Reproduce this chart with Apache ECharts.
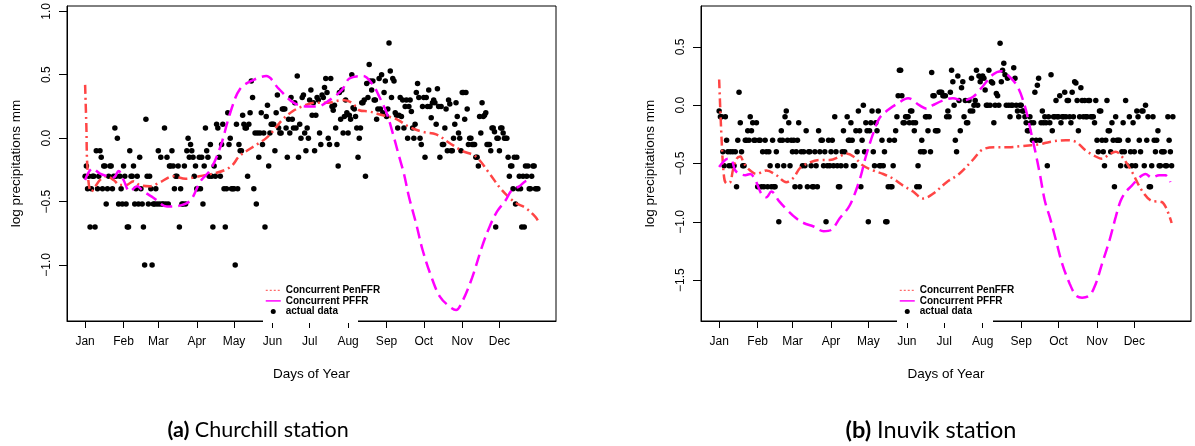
<!DOCTYPE html>
<html>
<head>
<meta charset="utf-8">
<script src="https://cdn.jsdelivr.net/npm/echarts@6/dist/echarts.min.js"></script>
<style>
  html, body { margin: 0; padding: 0; background: #fff; }
  #chart { width: 1195px; height: 446px; }
</style>
</head>
<body>
<div id="chart"></div>
<script>
// first day of each month (day of year) and tick labels
var monthStarts = [1, 32, 60, 91, 121, 152, 182, 213, 244, 274, 305, 335];
var monthNames = ['Jan', 'Feb', 'Mar', 'Apr', 'May', 'Jun', 'Jul', 'Aug', 'Sep', 'Oct', 'Nov', 'Dec'];
var yTicksA = [-1, -0.5, 0, 0.5, 1];
var yTicksB = [-1.5, -1, -0.5, 0, 0.5];

// Churchill: actual data, one value per day
var chuJan = [-0.3, -0.22, -0.4, -0.3, -0.7, -0.4, -0.3, -0.3, -0.7, -0.1, -0.4, -0.3, -0.1, -0.15, -0.4, -0.22, -0.22, -0.52, -0.4, -0.3, -0.22, -0.22, -0.4, -0.3, 0.08, -0.3, 0, -0.52, -0.3, -0.4, -0.52];
var chuFeb = [-0.22, -0.3, -0.52, -0.7, -0.7, -0.1, -0.3, -0.3, -0.22, -0.52, -0.4, -0.3, -0.52, -0.15, -0.4, -0.52, -0.7, -1, 0.15, -0.3, -0.52, -0.3, -0.4, -1, -0.52, -0.52, -0.4, -0.52];
var chuMar = [-0.1, -0.52, -0.15, -0.52, -0.52, 0.08, -0.52, -0.15, -0.52, -0.22, -0.22, -0.1, -0.22, -0.4, -0.3, -0.3, -0.22, -0.7, -0.4, -0.52, -0.52, -0.22, -0.52, -0.1, 0, -0.15, -0.05, -0.1, -0.15, -0.3, -0.22];
var chuApr = [-0.4, -0.4, -0.15, -0.4, -0.15, -0.52, -0.22, 0.08, -0.1, -0.15, -0.3, -0.05, -0.3, -0.7, -0.22, -0.3, 0.11, 0.08, -0.15, -0.3, -0.05, 0.11, -0.4, -0.7, -0.4, 0.2, -0.05, 0, -0.4, -0.4];
var chuMay = [-0.4, -1, 0.11, -0.4, -0.05, -0.1, -0.1, 0.18, 0.11, 0.08, 0.08, -0.3, 0.11, 0.2, 0.45, 0.32, -0.4, 0.04, -0.52, 0.04, -0.15, 0.04, 0.2, -0.05, 0.04, -0.7, 0.17, 0.26, -0.22, 0.04, 0.11];
var chuJun = [0.11, 0.11, -0.1, 0.2, 0.34, 0.08, 0.04, 0.04, 0.23, 0.23, 0.23, 0.08, -0.15, 0.15, 0.04, 0.32, 0.15, 0.08, 0.28, 0.08, 0.49, -0.15, 0.11, 0, 0.32, 0.34, 0.04, -0.1, 0.08, 0];
var chuJul = [0.3, 0.38, 0.18, 0.28, -0.1, 0.18, 0.32, 0.3, 0.04, -0.05, 0.34, 0.32, 0.4, 0.47, 0.36, 0, -0.05, 0.47, 0.25, 0.22, 0.26, 0.08, -0.05, -0.22, 0.36, 0.15, 0.38, 0.04, 0.17, 0.3, 0.2];
var chuAug = [0.04, 0.18, 0.15, 0.5, 0.24, 0.23, 0.17, 0.08, -0.15, 0, 0.08, 0.28, 0.28, 0.3, -0.3, 0.43, 0.32, 0.58, 0.45, 0.38, 0.45, 0.3, 0.3, 0.15, 0.23, 0.47, 0.23, 0.5, 0.2, 0.36, 0.45];
var chuSep = [0.17, 0.23, 0.75, 0.53, 0.32, 0.47, 0.45, 0.2, 0.18, 0.08, 0.18, 0.32, 0.17, 0.3, 0.08, 0.25, 0.3, 0, 0.25, 0.3, 0.21, 0.08, 0, 0.11, 0.36, 0.43, 0.32, 0, -0.05, 0.25];
var chuOct = [0.32, -0.15, 0.32, 0.25, 0.38, 0.25, 0.16, 0.28, 0.3, 0.28, 0.11, 0.39, 0.25, -0.15, 0.25, -0.05, -0.05, 0.08, 0.23, -0.1, 0.3, 0.27, -0.1, -0.1, 0, 0.11, 0.28, 0.17, 0.04, 0, -0.1];
var chuNov = [0.36, 0.36, 0.15, 0.36, 0.23, -0.05, 0, 0, -0.05, -0.05, -0.05, -0.15, -0.15, -0.22, 0.17, 0.04, 0.28, 0.17, 0.18, 0.2, -0.05, -0.05, -0.05, -0.1, 0.08, 0.08, 0.05, -0.7, 0, 0];
var chuDec = [-0.1, 0.08, 0.08, 0.04, 0, 0, 0, -0.15, -0.3, -0.22, -0.22, -0.4, -0.15, -0.52, -0.15, -0.4, -0.3, -0.4, -0.7, -0.3, -0.7, -0.22, -0.3, -0.22, -0.4, -0.4, -0.3, -0.22, -0.22, -0.4, -0.4, -0.4];

// Churchill: fitted curves (day, value)
var chuPenDays = [1, 2, 3, 6, 13, 18, 24, 29, 34, 40, 45, 53, 61, 72, 82, 93, 104, 114, 120, 125, 133, 141, 147, 152, 160, 168, 176, 187, 197, 208, 216, 222, 230, 241, 252, 262, 273, 284, 295, 305, 316, 327, 337, 348, 356, 364, 366];
var chuPenVals = [0.42, 0.1, -0.25, -0.42, -0.33, -0.3, -0.33, -0.37, -0.37, -0.34, -0.37, -0.38, -0.35, -0.3, -0.32, -0.3, -0.28, -0.25, -0.21, -0.145, -0.09, -0.04, 0, 0.05, 0.145, 0.21, 0.25, 0.28, 0.28, 0.3, 0.28, 0.22, 0.21, 0.18, 0.15, 0.09, 0.05, 0.03, -0.04, -0.1, -0.145, -0.28, -0.41, -0.51, -0.55, -0.62, -0.65];
var chuPffrDays = [1, 7, 13, 19, 24, 28, 32, 37, 43, 48, 56, 67, 78, 86, 94, 102, 110, 118, 126, 137, 147, 157, 169, 180, 188, 198, 208, 214, 225, 233, 238, 244, 249, 254, 258, 262, 268, 273, 280, 287, 295, 300, 305, 313, 321, 327, 333, 340, 345, 351, 356, 360];
var chuPffrVals = [-0.33, -0.24, -0.28, -0.3, -0.31, -0.26, -0.33, -0.42, -0.38, -0.42, -0.47, -0.54, -0.53, -0.49, -0.34, -0.25, -0.07, 0.2, 0.39, 0.46, 0.49, 0.39, 0.28, 0.25, 0.25, 0.3, 0.38, 0.47, 0.49, 0.42, 0.33, 0.2, 0.04, -0.14, -0.28, -0.46, -0.68, -0.88, -1.09, -1.25, -1.33, -1.355, -1.29, -1.1, -0.855, -0.7, -0.58, -0.49, -0.41, -0.38, -0.34, -0.33];

// Inuvik: actual data, one value per day
var inuJan = [-0.05, -0.1, -0.1, -0.4, -0.52, -0.1, -0.3, -0.4, -0.52, -0.4, -0.52, -0.4, -0.52, -0.4, -0.7, -0.3, 0.11, -0.15, -0.4, -0.52, -0.52, -0.3, -0.3, -0.22, -0.3, -0.1, -0.22, -0.15, -0.3, -0.3, -0.15];
var inuFeb = [-0.7, -0.3, -0.3, -0.7, -0.4, -0.7, -0.3, -0.4, -0.7, -0.4, -0.52, -0.7, -0.3, -0.7, -0.7, -0.4, -0.52, -1, -0.3, -0.22, -0.3, -0.52, -0.1, -0.05, -0.3, -0.15, -0.52, -0.3];
var inuMar = [-0.4, -0.3, -0.7, -0.4, -0.3, -0.15, -0.7, -0.4, -0.52, -0.4, -0.52, -0.22, -0.7, -0.4, -0.4, -0.52, -0.7, -0.7, -0.4, -0.52, -0.7, -0.22, -0.4, -0.3, -0.3, -0.52, -0.4, -1, -0.52, -0.3, -0.52];
var inuApr = [-0.4, -0.3, -0.52, -0.1, -0.4, -0.52, -0.7, -0.7, -0.52, -0.4, -0.22, -0.4, -0.52, -0.1, -0.3, -0.3, -0.15, -0.3, -0.52, -0.52, -0.22, -0.4, -0.05, -0.22, -0.7, -0.3, 0, -0.4, -0.15, -0.22];
var inuMay = [-1, -0.22, -0.15, -0.05, -0.4, -0.52, -0.15, -0.22, -0.05, -0.52, -0.52, -0.3, -0.52, -0.4, -1, -1, -0.7, -0.3, -0.7, -0.7, -0.52, -0.3, -0.22, -0.1, 0.08, 0.3, 0.3, 0.08, -0.15, -0.15, -0.1];
var inuJun = [-0.1, -0.1, -0.15, -0.05, -0.05, -0.15, -0.22, -0.15, -0.7, -0.52, -0.7, -0.4, -0.3, -0.4, -0.4, -0.1, -0.1, -0.22, -0.1, -0.4, 0.28, 0.08, 0.08, -0.22, -0.22, -0.22, 0.11, 0.11, 0.11, 0.08];
var inuJul = [0.08, 0.08, -0.1, -0.05, -0.1, 0.11, 0.3, 0.2, 0, -0.3, -0.4, 0.25, 0.04, -0.22, 0.15, 0.2, -0.1, 0.04, -0.15, -0.15, 0.04, -0.05, 0.23, -0.05, 0, 0.04, 0.3, 0, 0.25, 0.2, 0.23];
var inuAug = [0.25, 0.23, 0.13, 0, 0, 0.3, 0, 0.2, 0.19, -0.15, 0, 0.1, 0.08, 0, 0.53, 0.2, 0.3, 0.36, 0.26, 0, 0.23, 0, -0.1, 0, 0, 0.32, 0.23, 0, -0.05, -0.1, 0];
var inuSep = [0, -0.05, -0.05, -0.1, -0.15, -0.22, -0.22, -0.1, -0.15, -0.3, -0.15, 0.11, -0.3, 0.17, 0.23, -0.3, -0.15, -0.05, -0.15, -0.1, -0.15, -0.52, -0.1, -0.15, 0.26, -0.22, -0.1, -0.1, 0.04, -0.1];
var inuOct = [-0.1, 0.08, -0.15, -0.1, -0.1, 0.11, -0.1, 0.04, 0.04, -0.1, -0.15, 0.11, -0.1, 0.2, 0.19, 0.04, -0.22, -0.1, 0.15, 0.04, -0.1, 0.04, -0.1, -0.1, 0.04, 0.04, -0.1, -0.1, -0.1, -0.15, 0.04];
var inuNov = [-0.3, -0.4, -0.05, -0.05, -0.3, -0.4, -0.52, -0.3, 0.04, -0.22, -0.22, -0.4, -0.15, -0.3, -0.7, -0.1, -0.3, -0.3, -0.3, -0.52, -0.4, -0.15, -0.4, 0.04, -0.52, -0.3, -0.1, -0.4, -0.52, -0.15];
var inuDec = [-0.4, -0.52, -0.05, -0.1, -0.3, -0.4, -0.05, -0.05, -0.52, 0, -0.3, -0.1, -0.7, -0.7, -0.52, -0.1, -0.3, -0.4, -0.3, -0.22, -0.52, -0.52, -0.4, -0.4, -0.4, -0.52, -0.52, -0.1, -0.3, -0.4, -0.52, -0.1];

// Inuvik: fitted curves (day, value)
var inuPenDays = [1, 3, 5, 7, 10, 12, 15, 18, 21, 26, 31, 39, 47, 55, 61, 66, 74, 82, 90, 98, 103, 109, 117, 125, 133, 141, 149, 157, 165, 173, 184, 194, 205, 213, 224, 234, 245, 259, 267, 280, 288, 296, 304, 309, 315, 320, 325, 333, 341, 349, 357, 361, 365];
var inuPenVals = [0.22, -0.3, -0.62, -0.67, -0.66, -0.56, -0.46, -0.44, -0.5, -0.56, -0.59, -0.56, -0.6, -0.66, -0.62, -0.54, -0.49, -0.47, -0.47, -0.44, -0.415, -0.44, -0.52, -0.56, -0.59, -0.63, -0.69, -0.74, -0.8, -0.76, -0.66, -0.59, -0.47, -0.38, -0.36, -0.36, -0.35, -0.335, -0.315, -0.3, -0.315, -0.39, -0.44, -0.46, -0.42, -0.4, -0.44, -0.57, -0.73, -0.82, -0.83, -0.89, -1.01];
var inuPffrDays = [1, 4, 8, 11, 14, 18, 22, 26, 30, 35, 39, 43, 49, 55, 63, 69, 77, 85, 91, 98, 106, 114, 119, 125, 130, 137, 144, 153, 162, 168, 173, 181, 189, 197, 205, 213, 221, 228, 234, 241, 247, 251, 255, 259, 263, 267, 272, 277, 283, 288, 293, 299, 304, 309, 315, 320, 324, 328, 333, 339, 344, 349, 355, 360, 364];
var inuPffrVals = [-0.53, -0.49, -0.46, -0.47, -0.56, -0.59, -0.6, -0.59, -0.64, -0.76, -0.79, -0.74, -0.82, -0.89, -0.97, -1.01, -1.04, -1.08, -1.07, -0.97, -0.86, -0.64, -0.44, -0.24, -0.11, -0.04, 0.01, 0.06, 0, -0.03, 0, 0.04, 0.06, 0.04, 0.07, 0.16, 0.26, 0.29, 0.25, 0.16, -0.01, -0.19, -0.38, -0.59, -0.82, -0.96, -1.16, -1.36, -1.53, -1.63, -1.65, -1.63, -1.53, -1.36, -1.16, -0.96, -0.82, -0.745, -0.69, -0.62, -0.59, -0.62, -0.6, -0.6, -0.66];

var chuObs = [].concat(chuJan, chuFeb, chuMar, chuApr, chuMay, chuJun, chuJul, chuAug, chuSep, chuOct, chuNov, chuDec);
var inuObs = [].concat(inuJan, inuFeb, inuMar, inuApr, inuMay, inuJun, inuJul, inuAug, inuSep, inuOct, inuNov, inuDec);

function dayPoints (vals) {
  return vals.map(function (v, i) { return [i + 1, v] })
}
function curve (days, vals) {
  return days.map(function (d, i) { return [d, vals[i]] })
}
function fmtY (v) {
  return (v < 0 ? '\u2212' : '') + Math.abs(v).toFixed(1)
}

var RED = '#ff4545';
var MAG = '#ff00ff';
var FONT = 'Liberation Sans';

function xAxis (idx) {
  return {
    type: 'value',
    gridIndex: idx,
    min: -13.6,
    max: 380.6,
    name: 'Days of Year',
    nameLocation: 'middle',
    nameGap: 46,
    nameTextStyle: { fontFamily: FONT, fontSize: 13.5, color: '#000' },
    axisLine: { show: true, onZero: false, lineStyle: { color: '#000', width: 1 } },
    axisTick: { show: true, length: 7, customValues: monthStarts, lineStyle: { color: '#000' } },
    axisLabel: {
      customValues: monthStarts,
      fontFamily: FONT,
      fontSize: 12,
      color: '#000',
      margin: 15,
      formatter: function (v) { return monthNames[monthStarts.indexOf(v)] }
    },
    splitLine: { show: false }
  }
}

function yAxis (idx, min, max, ticks) {
  return {
    type: 'value',
    gridIndex: idx,
    min: min,
    max: max,
    name: 'log precipitations mm',
    nameLocation: 'middle',
    nameGap: 44,
    nameTextStyle: { fontFamily: FONT, fontSize: 13.5, color: '#000' },
    axisLine: { show: true, onZero: false, lineStyle: { color: '#000', width: 1 } },
    axisTick: { show: true, length: 8, customValues: ticks, lineStyle: { color: '#000' } },
    axisLabel: {
      customValues: ticks,
      rotate: 90,
      fontFamily: FONT,
      fontSize: 12,
      color: '#000',
      margin: 14,
      formatter: fmtY
    },
    splitLine: { show: false }
  }
}

// legend line icons: hide the symbol ECharts adds in the middle of a line icon
var noMarker = { color: 'rgba(0,0,0,0)', borderWidth: 0, opacity: 0 };

function legend (left) {
  return {
    left: left,
    top: 285,
    orient: 'vertical',
    padding: 0,
    itemGap: 0,
    itemWidth: 15,
    itemHeight: 5,
    selectedMode: false,
    z: 10,
    textStyle: { fontFamily: FONT, fontWeight: 'bold', fontSize: 10, lineHeight: 10.6, color: '#000' },
    data: [
      { name: 'Concurrent PenFFR', itemStyle: noMarker, lineStyle: { color: RED, width: 1, type: [2, 2] } },
      { name: 'Concurrent PFFR', itemStyle: noMarker, lineStyle: { color: MAG, width: 1.5, type: 'solid' } },
      { name: 'actual data', itemStyle: { color: '#000', opacity: 1 } }
    ]
  }
}

function panelSeries (idx, obs, penD, penV, pfD, pfV) {
  return [
    {
      name: 'actual data',
      type: 'scatter',
      xAxisIndex: idx,
      yAxisIndex: idx,
      symbol: 'circle',
      symbolSize: 5.5,
      itemStyle: { color: '#000', opacity: 1 },
      data: dayPoints(obs),
      z: 2
    },
    {
      name: 'Concurrent PenFFR',
      type: 'line',
      xAxisIndex: idx,
      yAxisIndex: idx,
      symbol: 'none',
      smooth: 0.35,
      lineStyle: { color: RED, width: 2.5, type: [9, 4, 2, 4] },
      itemStyle: { color: RED },
      data: curve(penD, penV),
      z: 3
    },
    {
      name: 'Concurrent PFFR',
      type: 'line',
      xAxisIndex: idx,
      yAxisIndex: idx,
      symbol: 'none',
      smooth: 0.35,
      lineStyle: { color: MAG, width: 2.5, type: [12, 6] },
      itemStyle: { color: MAG },
      data: curve(pfD, pfV),
      z: 3
    }
  ]
}

var chart = echarts.init(document.getElementById('chart'), null, { renderer: 'canvas' });
var option = {
  backgroundColor: '#fff',
  animation: false,
  title: [
    {
      text: '{b|(a)} Churchill station',
      left: 253,
      top: 414,
      textAlign: 'center',
      textStyle: { fontFamily: 'Lato', fontSize: 21.5, fontWeight: 'normal', color: '#000',
        rich: { b: { fontFamily: 'Lato', fontSize: 21.5, fontWeight: 'bold', color: '#000' } } }
    },
    {
      text: '{b|(b)} Inuvik station',
      left: 926,
      top: 413,
      textAlign: 'center',
      textStyle: { fontFamily: 'Lato', fontSize: 23.5, fontWeight: 'normal', color: '#000',
        rich: { b: { fontFamily: 'Lato', fontSize: 23.5, fontWeight: 'bold', color: '#000' } } }
    }
  ],
  grid: [
    { left: 67, top: 6, width: 489, height: 315, show: true, borderColor: '#000', borderWidth: 1, backgroundColor: 'transparent' },
    { left: 701, top: 6, width: 490, height: 315, show: true, borderColor: '#000', borderWidth: 1, backgroundColor: 'transparent' }
  ],
  xAxis: [xAxis(0), xAxis(1)],
  yAxis: [yAxis(0, -1.442, 1.042, yTicksA), yAxis(1, -1.85, 0.85, yTicksB)],
  legend: [legend(265), legend(899)],
  // white legend boxes that hide the frame under them, as in the R figure
  graphic: [
    { type: 'rect', left: 263, top: 283, z: 5, shape: { width: 95, height: 40 }, style: { fill: '#fff' } },
    { type: 'rect', left: 897, top: 283, z: 5, shape: { width: 96, height: 40 }, style: { fill: '#fff' } }
  ],
  series: [].concat(
    panelSeries(0, chuObs, chuPenDays, chuPenVals, chuPffrDays, chuPffrVals),
    panelSeries(1, inuObs, inuPenDays, inuPenVals, inuPffrDays, inuPffrVals)
  )
};
chart.setOption(option);
</script>
</body>
</html>
